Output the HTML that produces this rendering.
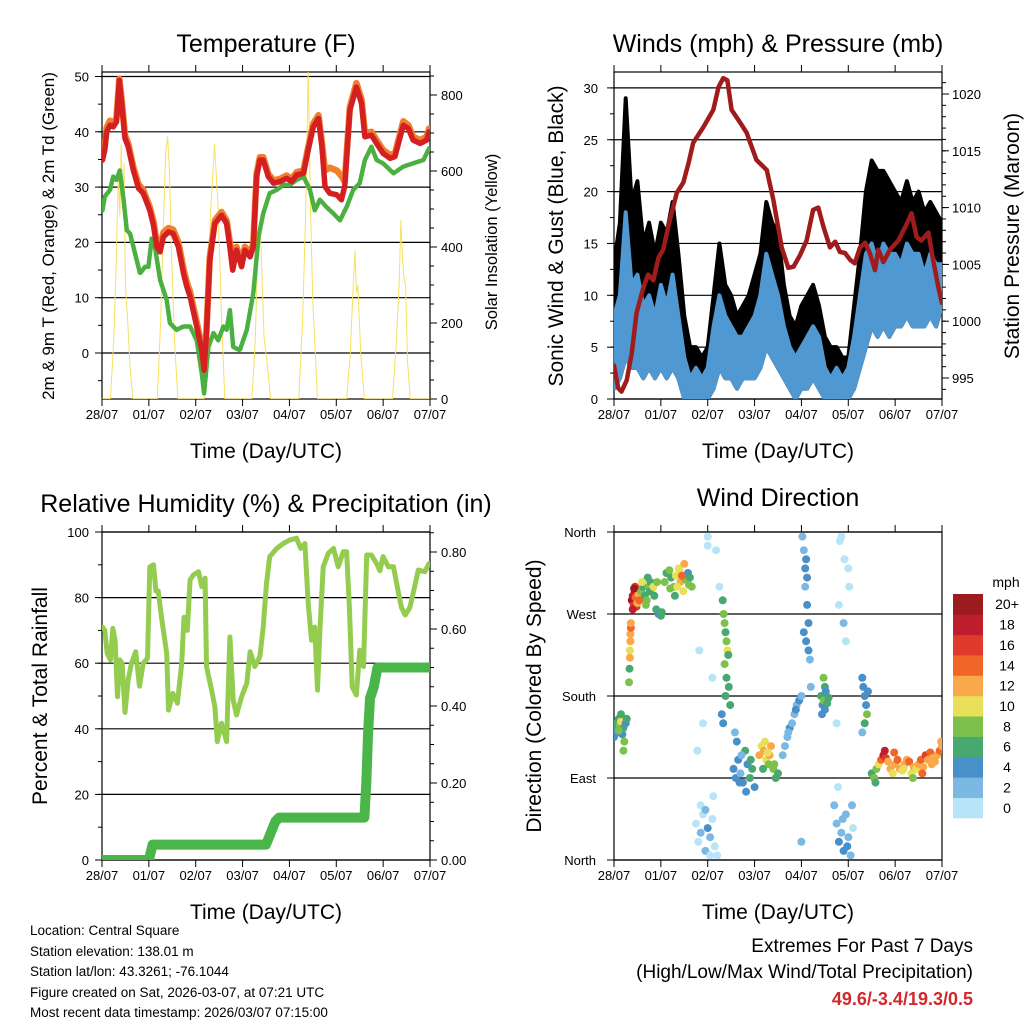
<!DOCTYPE html>
<html><head><meta charset="utf-8"><title>Station Meteogram</title>
<style>
html,body{margin:0;padding:0;background:#fff;}
svg{display:block;font-family:"Liberation Sans",Arial,sans-serif;}
</style></head>
<body>
<svg id="chart" width="1024" height="1024" viewBox="0 0 1024 1024" xmlns="http://www.w3.org/2000/svg">
<defs>
<clipPath id="c1"><rect x="102" y="72" width="328" height="327"/></clipPath>
<clipPath id="c2"><rect x="614" y="72" width="328" height="327"/></clipPath>
<clipPath id="c3"><rect x="102" y="532" width="328" height="328"/></clipPath>
<clipPath id="c4"><rect x="614" y="532" width="328" height="328"/></clipPath>
</defs>
<rect width="1024" height="1024" fill="#fff"/>
<g font-size="25" text-anchor="middle" fill="#000">
<text x="266" y="52">Temperature (F)</text>
<text x="778" y="52">Winds (mph) &amp; Pressure (mb)</text>
<text x="266" y="512">Relative Humidity (%) &amp; Precipitation (in)</text>
<text x="778" y="506">Wind Direction</text>
</g>
<g font-size="21" text-anchor="middle">
<text x="266" y="458">Time (Day/UTC)</text>
<text x="778" y="458">Time (Day/UTC)</text>
<text x="266" y="919">Time (Day/UTC)</text>
<text x="778" y="919">Time (Day/UTC)</text>
<text transform="translate(563,236) rotate(-90)">Sonic Wind &amp; Gust (Blue, Black)</text>
<text transform="translate(1019,236) rotate(-90)">Station Pressure (Maroon)</text>
<text transform="translate(47,696) rotate(-90)">Percent &amp; Total Rainfall</text>
<text transform="translate(541,696) rotate(-90)">Direction (Colored By Speed)</text>
</g>
<g text-anchor="middle">
<text font-size="17" transform="translate(54,236) rotate(-90)">2m &amp; 9m T (Red, Orange) &amp; 2m Td (Green)</text>
<text font-size="16.5" transform="translate(497,242) rotate(-90)">Solar Insolation (Yellow)</text>
</g>
<g font-size="13.5">
<text x="30" y="935">Location: Central Square</text>
<text x="30" y="956">Station elevation: 138.01 m</text>
<text x="30" y="976">Station lat/lon: 43.3261; -76.1044</text>
<text x="30" y="997">Figure created on Sat, 2026-03-07, at 07:21 UTC</text>
<text x="30" y="1017">Most recent data timestamp: 2026/03/07 07:15:00</text>
</g>
<g font-size="19" text-anchor="end">
<text x="973" y="952">Extremes For Past 7 Days</text>
<text x="973" y="978">(High/Low/Max Wind/Total Precipitation)</text>
<text x="973" y="1005" fill="#d0282c" font-weight="bold" font-size="18">49.6/-3.4/19.3/0.5</text>
</g>
<g id="layer"></g>
</svg>
<script>
// ---------- data ----------
const dayLabels = ["28/07","01/07","02/07","03/07","04/07","05/07","06/07","07/07"];
const tempDays = [0.01,0.06,0.10,0.17,0.24,0.31,0.37,0.42,0.49,0.56,0.67,0.78,0.88,1.02,1.10,1.17,1.24,1.31,1.42,1.52,1.63,1.74,1.81,1.88,2.02,2.13,2.18,2.23,2.30,2.41,2.55,2.66,2.73,2.79,2.87,2.98,3.05,3.16,3.23,3.30,3.37,3.44,3.55,3.66,3.80,3.94,4.05,4.15,4.30,4.40,4.51,4.62,4.69,4.76,4.86,5.01,5.11,5.18,5.29,5.43,5.54,5.61,5.75,5.86,6.00,6.15,6.25,6.43,6.54,6.64,6.79,6.93,6.98];
const temp2m = [34.9,36.7,40,41.2,40.9,41.8,49.3,45.1,38.8,37.3,33,29.8,28.9,25.8,23.1,19.2,18.3,21,21.9,21.6,19.2,14.4,12,10.2,4.8,0.5,-3.1,3.6,16.8,23.4,24.9,23.4,19.2,15,18.6,15.6,18.6,17.4,19.2,31.9,34.9,34.9,31.9,30.7,31,31.6,31,32.2,32.5,36.7,40.9,42.4,37.6,30.1,28.9,28.6,27.7,30.1,43.9,48.1,45.1,39.1,39.4,37.9,36.1,35.2,35.5,41.2,40.6,38.5,37.9,38.5,40];
const temp9m = [35.6,37.5,40.8,42,41.6,42.5,49.6,45.8,39.4,37.9,33.6,30.5,29.5,26.4,23.8,19.8,18.9,21.8,22.6,22.3,20,15.2,12.8,11,5.6,1.2,-2.6,4.2,17.4,24,25.5,24,20,15.8,19.2,16.3,19.2,18,19.8,32.4,35.4,35.4,32.4,31.2,31.5,32.1,31.5,32.7,33,37.2,41.5,43,38.2,33,33.5,33,32,31,44.5,48.8,45.8,39.8,40,38.5,36.7,35.8,36.1,41.9,41.2,39.1,38.5,39.1,40.6];
const dewDays = [0.01,0.06,0.17,0.24,0.31,0.38,0.46,0.53,0.60,0.67,0.81,0.92,0.99,1.06,1.13,1.24,1.38,1.45,1.59,1.74,1.88,2.02,2.13,2.18,2.27,2.38,2.48,2.59,2.66,2.73,2.80,2.94,3.09,3.23,3.34,3.44,3.58,3.73,3.87,4.01,4.15,4.30,4.44,4.54,4.65,4.79,4.94,5.08,5.22,5.36,5.50,5.61,5.75,5.86,6.00,6.22,6.43,6.64,6.86,6.98];
const dewPoint = [25.8,28.3,29.5,31.9,31.3,33,27.7,22.2,21.6,19.2,14.4,15.6,15.6,20.7,19.2,13.2,9.6,5.4,4.2,4.8,4.8,2.3,-3.7,-7.3,1.1,3.6,2.3,4.8,4.2,7.8,1.1,0.5,4.2,10.8,21,25.2,28.9,29.5,30.4,30.4,31.3,31.9,29.5,25.8,27.7,26.4,25.2,24,26.4,29.5,30.7,34.9,37.3,34.9,34.3,32.5,33.7,34.3,34.9,37];
const solarDays = [0,0.18,0.25,0.3,0.35,0.38,0.41,0.44,0.47,0.5,0.55,0.6,0.66,1.18,1.25,1.3,1.36,1.4,1.44,1.48,1.55,1.62,2.18,2.25,2.32,2.4,2.48,2.55,2.62,3.2,3.27,3.32,3.38,3.42,3.46,3.52,3.6,4.2,4.28,4.35,4.4,4.45,4.5,4.6,5.22,5.3,5.36,5.4,5.43,5.46,5.52,5.6,6.2,6.28,6.34,6.38,6.41,6.44,6.48,6.52,6.58,7];
const solarW = [0,0,150,350,600,480,670,500,620,300,200,80,0,0,200,420,650,690,600,400,150,0,0,220,500,670,500,220,0,0,150,380,450,300,160,100,0,0,200,500,870,500,250,0,0,120,300,390,280,300,120,0,0,150,300,470,380,320,300,100,0,0];
const windDays = [0,0.125,0.25,0.375,0.5,0.625,0.75,0.875,1,1.125,1.25,1.375,1.5,1.625,1.75,1.875,2,2.125,2.25,2.375,2.5,2.625,2.75,2.875,3,3.125,3.25,3.375,3.5,3.625,3.75,3.875,4,4.125,4.25,4.375,4.5,4.625,4.75,4.875,5,5.125,5.25,5.375,5.5,5.625,5.75,5.875,6,6.125,6.25,6.375,6.5,6.625,6.75,6.875,7];
const windLo = [1,2,4,3,3,2,3,2,3,2,3,2,0,0,0,0,0,1,3,2,2,1,2,2,2,3,5,4,3,2,1,0,1,1,2,1,0,0,0,0,0,1,3,5,7,6,7,6,7,7,8,7,7,7,8,7,9];
const windHi = [8,10,18,11,12,9,10,8,11,9,12,8,4,2,3,2,3,7,10,8,7,6,6,7,8,10,14,12,10,7,5,4,5,6,7,6,3,2,3,2,3,6,10,14,15,13,15,14,14,13,15,14,14,12,14,13,13];
const gustHi = [13,17,29,19,21,15,17,14,17,16,19,14,8,5,5,4,5,10,15,11,10,8,9,10,12,14,19,17,16,11,8,7,9,10,11,9,6,5,5,4,4,9,14,20,23,22,22,21,20,19,21,19,20,18,19,18,17];
const presDays = [0,0.09,0.16,0.27,0.38,0.48,0.63,0.73,0.84,0.95,1.05,1.19,1.34,1.48,1.59,1.69,1.91,2.12,2.23,2.33,2.42,2.51,2.69,2.83,3.04,3.26,3.40,3.58,3.72,3.83,3.97,4.11,4.25,4.36,4.47,4.61,4.72,4.82,4.93,5.04,5.14,5.25,5.36,5.46,5.57,5.64,5.75,5.89,6.07,6.24,6.35,6.46,6.56,6.71,6.81,6.92,7.0];
const pressure = [996.1,994.1,993.8,994.8,997.2,1000.7,1003,1004.1,1003.6,1005.6,1006.3,1008.9,1011.3,1012.2,1013.9,1015.7,1017.1,1018.6,1020.6,1021.4,1021.2,1018.6,1017.5,1016.6,1014.2,1013.3,1010.7,1006.5,1004.7,1004.8,1005.8,1007.1,1009.8,1010,1008.3,1006.5,1007,1006.1,1006,1005.4,1005.1,1006.5,1006.9,1006,1004.5,1006.3,1005.2,1006.3,1007.1,1008.5,1009.5,1007.4,1007.1,1007.8,1005.4,1003,1001.6];
const rhDays = [0.01,0.06,0.11,0.18,0.23,0.28,0.33,0.38,0.43,0.49,0.56,0.63,0.72,0.80,0.88,0.97,1.02,1.10,1.15,1.20,1.27,1.38,1.42,1.51,1.61,1.70,1.75,1.82,1.88,1.95,2.06,2.13,2.20,2.23,2.34,2.41,2.46,2.55,2.66,2.73,2.80,2.87,2.98,3.09,3.16,3.26,3.37,3.44,3.51,3.58,3.73,3.87,4.01,4.15,4.24,4.33,4.40,4.47,4.54,4.60,4.65,4.72,4.83,4.94,5.04,5.15,5.22,5.28,5.34,5.43,5.50,5.58,5.65,5.75,5.86,5.93,6.00,6.11,6.22,6.32,6.39,6.47,6.57,6.68,6.75,6.89,6.98];
const rhValues = [71,70,63,61,70.6,67,49.8,61,60,45,55,60,63.5,53,60,61.5,89.4,90,82,82,74,63,45.7,50.8,47.8,60,74,70,85.4,86.9,87.9,83.3,85.9,59,51.8,46.7,36.1,41.7,36.1,68,48.8,44.2,49.8,53.9,63.5,59,62,71,84.3,92.5,95,96.5,97.6,98.1,95,96.5,78.3,67,71,51.8,70,89.4,93.5,95,89.4,94,94,77,52.8,50.3,64,59,93,93,90.4,88.2,92.5,89.4,89.4,82,77,74.7,77,83.8,88.4,87.9,90.4];
const precipDays = [0,1.0,1.08,3.5,3.6,3.7,3.78,5.6,5.64,5.68,5.72,5.8,5.88,7];
const precipTotal = [0,0,0.04,0.04,0.07,0.10,0.11,0.11,0.2,0.33,0.42,0.45,0.5,0.5];
const dirDay = [0,0.03,0.05,0.08,0.1,0.12,0.15,0.18,0.2,0.22,0.25,0.27,0.1,0.2,0.15,
0.32,0.33,0.34,0.34,0.35,0.35,0.36,0.36,
0.38,0.4,0.42,0.44,0.46,0.48,0.5,0.4,0.45,0.52,0.54,0.43,
0.58,0.62,0.66,0.7,0.74,0.78,0.82,0.86,0.9,0.95,1.0,0.68,0.76,0.84,0.92,0.72,0.6,1.02,
1.08,1.12,1.18,1.22,1.28,1.32,1.38,1.42,1.48,1.52,1.58,1.62,1.66,1.2,1.3,1.4,1.5,1.6,1.35,1.45,
1.75,1.8,1.85,1.9,1.95,2.0,2.05,2.1,2.15,2.2,1.85,1.95,2.05,2.12,1.78,2.0,2.25,1.9,2.1,2.0,2.18,1.82,
2.32,2.34,2.36,2.38,2.4,2.42,2.44,2.36,2.4,2.45,2.3,2.33,2.38,2.48,
2.55,2.6,2.65,2.7,2.75,2.8,2.85,2.9,2.95,3.0,2.62,2.72,2.82,2.92,2.58,2.68,
3.1,3.15,3.2,3.25,3.3,3.35,3.4,3.45,3.5,3.22,3.32,3.42,3.18,3.28,
3.6,3.65,3.7,3.75,3.8,3.85,3.9,3.95,4.0,3.72,3.88,
4.02,4.05,4.08,4.1,4.12,4.05,4.1,4.15,4.15,4.18,4.08,4.12,4.2,4.0,
4.42,4.45,4.48,4.5,4.52,4.55,4.47,4.5,4.58,4.44,
4.7,4.75,4.8,4.85,4.9,4.95,5.0,5.05,5.1,4.78,4.88,4.98,5.08,4.82,4.92,5.02,4.8,4.9,5.0,4.85,4.95,4.75,
5.3,5.32,5.35,5.38,5.4,5.35,5.42,5.3,
5.5,5.55,5.6,5.65,5.7,5.75,5.8,5.85,5.9,5.95,6.0,6.05,6.1,6.15,6.2,6.25,6.3,6.35,6.4,6.45,6.5,6.55,6.6,6.65,6.7,6.75,6.8,6.85,6.9,6.95,7.0,5.58,5.78,5.98,6.18,6.38,6.58,6.78,6.98];
const dirDeg = [135,145,150,140,155,148,152,138,145,130,150,155,142,120,160,
195,210,222,230,240,248,255,260,
285,290,280,295,288,278,282,275,300,292,285,298,
295,300,290,285,300,305,298,290,275,270,268,280,295,300,305,310,305,272,
305,315,318,310,300,312,320,305,295,308,315,310,300,298,290,318,325,302,300,312,
40,20,30,50,10,35,25,45,15,5,60,55,5,70,120,345,300,150,200,355,340,230,
285,270,260,250,240,230,225,215,200,190,160,150,180,170,
100,90,110,95,85,120,105,90,100,80,130,115,75,110,140,85,
115,125,120,110,105,125,100,90,95,130,115,105,100,118,
115,125,135,145,150,160,170,175,180,140,165,
355,340,320,330,310,250,240,230,260,220,300,280,190,20,
180,170,175,190,185,172,200,165,178,160,
60,40,20,30,10,50,25,5,35,80,45,15,60,350,330,300,280,260,320,355,240,150,
200,190,180,170,160,150,185,140,
95,90,100,105,110,115,112,108,100,95,105,110,100,98,105,110,108,95,102,100,105,110,102,115,110,118,112,108,115,120,125,85,120,118,100,90,95,105,130];
const dirSpd = [4,4,6,4,6,8,10,4,6,8,4,6,8,8,6,
8,6,12,10,12,12,14,12,
20,18,16,18,14,16,12,18,16,12,14,20,
8,6,6,8,8,6,10,6,6,4,6,8,6,10,8,6,10,6,
8,6,8,6,8,10,10,12,10,8,4,6,8,8,6,10,12,8,10,14,
0,0,2,0,2,4,2,0,0,0,0,2,0,0,0,0,0,0,0,0,0,0,
6,8,8,6,8,10,6,8,6,6,4,4,6,6,
4,4,4,2,4,6,4,6,6,4,4,2,4,6,2,4,
12,10,12,10,8,12,8,6,6,10,12,8,6,10,
2,2,2,4,2,2,2,4,2,2,4,
2,2,4,4,4,4,4,4,4,2,2,4,2,2,
6,4,8,6,4,6,8,4,6,4,
2,2,4,2,4,2,2,2,0,0,2,4,2,0,0,0,0,2,0,0,0,0,
4,4,4,4,8,6,4,2,
6,8,8,10,14,18,16,12,12,10,12,14,12,10,12,12,14,10,12,10,12,14,12,16,12,14,12,12,12,14,12,6,18,14,10,8,14,12,12];
const speedLabels = ["0","2","4","6","8","10","12","14","16","18","20+"];
const speedColors = ["#b8e4f8","#7cb8e4","#4a90c8","#48a870","#7cc24a","#e8e05a","#f9a94a","#f26529","#e03a2c","#be1e2d","#9b1b1f"];

// ---------- helpers ----------
const NS = "http://www.w3.org/2000/svg";
const layer = document.getElementById('layer');
function mk(tag, parent){ const e = document.createElementNS(NS, tag); (parent||layer).appendChild(e); return e; }
function P(x0,x1,y0,y1){ return {x0,x1,y0,y1, x:d=>x0+d/7*(x1-x0)}; }
const p1=P(102,430,72,399), p2=P(614,942,72,399), p3=P(102,430,532,860), p4=P(614,942,532,860);
const yT=v=>353-v*5.53, yS=w=>399-w*0.38, yW=v=>399-v*10.37, yP=p=>378-(p-995)*11.36;
const yR=v=>860-v*3.28, yPr=v=>860-v*385, yD=d=>860-d*0.9111;

function line(x1,y1,x2,y2,parent,w){ const l=mk('line',parent); l.setAttribute('x1',x1);l.setAttribute('y1',y1);l.setAttribute('x2',x2);l.setAttribute('y2',y2);l.setAttribute('stroke','#000');l.setAttribute('stroke-width',w||1); return l; }
function txt(s,x,y,anchor,size,parent){ const t=mk('text',parent); t.textContent=s; t.setAttribute('x',x); t.setAttribute('y',y); t.setAttribute('text-anchor',anchor); t.setAttribute('font-size',size); return t; }

function frame(p, name){
  const g=mk('g');
  
  
  const r=mk('rect',g); r.setAttribute('x',p.x0); r.setAttribute('y',p.y0); r.setAttribute('width',p.x1-p.x0); r.setAttribute('height',p.y1-p.y0); r.setAttribute('fill','none'); r.setAttribute('stroke','#000'); r.setAttribute('stroke-width',1.2);
  for(let d=0; d<=7; d++){
    const x=p.x(d);
    line(x,p.y1,x,p.y1+7,g); line(x,p.y0,x,p.y0-7,g);
    const t=txt(dayLabels[d],x,p.y1+20,'middle',13,g);
    
    
  }
  return g;
}
function leftAxis(p,g,f,majors,minors,labels,grid,rx){
  minors.forEach(v=>line(p.x0-4,f(v),p.x0,f(v),g));
  majors.forEach((v,i)=>{ line(p.x0-7,f(v),p.x0,f(v),g); if(grid) line(p.x0,f(v),p.x1,f(v),g,1.2);
    const t=txt(labels[i],rx,f(v)+5,'end',13,g);
    
     });
}
function rightAxis(p,g,f,majors,minors,labels,lx){
  minors.forEach(v=>line(p.x1,f(v),p.x1+4,f(v),g));
  majors.forEach((v,i)=>{ line(p.x1,f(v),p.x1+7,f(v),g);
    const t=txt(labels[i],lx,f(v)+5,'start',13,g);
    
     });
}
function rng(a,b,s){ const r=[]; for(let v=a; v<=b+1e-9; v+=s) r.push(+v.toFixed(3)); return r; }
function poly(days,vals,p,f,color,w,clip,parent){
  const pl=mk('polyline',parent);
  pl.setAttribute('points',days.map((d,i)=>p.x(d).toFixed(1)+','+f(vals[i]).toFixed(1)).join(' '));
  pl.setAttribute('fill','none'); pl.setAttribute('stroke',color); pl.setAttribute('stroke-width',w);
  pl.setAttribute('stroke-linejoin','round'); pl.setAttribute('stroke-linecap','round');
  pl.setAttribute('clip-path','url(#'+clip+')');
  return pl;
}

// ---------- Panel 1: temperature ----------
const g1=frame(p1,'temperature');
leftAxis(p1,g1,yT,[0,10,20,30,40,50],rng(-5,50,5),["0","10","20","30","40","50"],true,89);
rightAxis(p1,g1,yS,[0,200,400,600,800],rng(0,850,50),["0","200","400","600","800"],441);
const sol=poly(solarDays,solarW,p1,yS,'#f8e060',1,'c1');


const dew=poly(dewDays,dewPoint,p1,yT,'#4ab040',4.5,'c1');
dew.setAttribute('stroke-dasharray','3 1.5');


const t9=poly(tempDays,temp9m,p1,yT,'#f08030',6.5,'c1');


const t2=poly(tempDays,temp2m,p1,yT,'#d42020',5.5,'c1');



// ---------- Panel 2: winds & pressure ----------
const g2=frame(p2,'winds');
leftAxis(p2,g2,yW,[0,5,10,15,20,25,30],rng(0,30,2.5),["0","5","10","15","20","25","30"],true,598);
rightAxis(p2,g2,yP,[995,1000,1005,1010,1015,1020],rng(994,1021,1),["995","1000","1005","1010","1015","1020"],952);
function band(lo,hi,color,name){
  const pg=mk('polygon');
  const top=windDays.map((d,i)=>p2.x(d).toFixed(1)+','+yW(hi[i]).toFixed(1));
  const bot=windDays.map((d,i)=>p2.x(d).toFixed(1)+','+yW(lo[i]).toFixed(1)).reverse();
  pg.setAttribute('points',top.concat(bot).join(' '));
  pg.setAttribute('fill',color); pg.setAttribute('stroke',color); pg.setAttribute('stroke-width',4); pg.setAttribute('stroke-linejoin','round');
  pg.setAttribute('clip-path','url(#c2)');
  
  
}
band(windLo,gustHi,'#000','gust-band');
band(windLo,windHi,'#5098d2','wind-band');
const pr=poly(presDays,pressure,p2,yP,'#a01c1c',4.5,'c2');



// ---------- Panel 3: RH & precip ----------
const g3=frame(p3,'humidity');
leftAxis(p3,g3,yR,[0,20,40,60,80,100],rng(0,100,10),["0","20","40","60","80","100"],true,89);
rightAxis(p3,g3,yPr,[0,0.2,0.4,0.6,0.8],rng(0,0.85,0.05),["0.00","0.20","0.40","0.60","0.80"],441);
const rh=poly(rhDays,rhValues,p3,yR,'#94cc50',5,'c3');


const pc=poly(precipDays,precipTotal,p3,yPr,'#4ab548',10,'c3');



// ---------- Panel 4: wind direction ----------
const g4=frame(p4,'direction');
leftAxis(p4,g4,yD,[0,90,180,270,360],[],["North","East","South","West","North"],true,596);
rightAxis(p4,g4,yD,[],[],[],950);
const dots=mk('g');
dots.setAttribute('clip-path','url(#c4)');


dirDay.forEach((d,i)=>{
  const c=mk('circle',dots);
  c.setAttribute('cx',p4.x(d).toFixed(1)); c.setAttribute('cy',yD(dirDeg[i]).toFixed(1)); c.setAttribute('r',4);
  c.setAttribute('fill',speedColors[Math.min(10,Math.floor(dirSpd[i]/2))]);
  
  
});
// colorbar
const cb=mk('g');


const mph=txt('mph',1006,587,'middle',14,cb);


const bh=224/11;
speedColors.forEach((col,i)=>{
  const y=818-(i+1)*bh;
  const r=mk('rect',cb); r.setAttribute('x',953); r.setAttribute('y',y.toFixed(1)); r.setAttribute('width',30); r.setAttribute('height',(bh+0.3).toFixed(1)); r.setAttribute('fill',col);
  
  
  const t=txt(speedLabels[i],1007,y+bh/2+5,'middle',14,cb);
  
  
});
</script>
</body></html>
